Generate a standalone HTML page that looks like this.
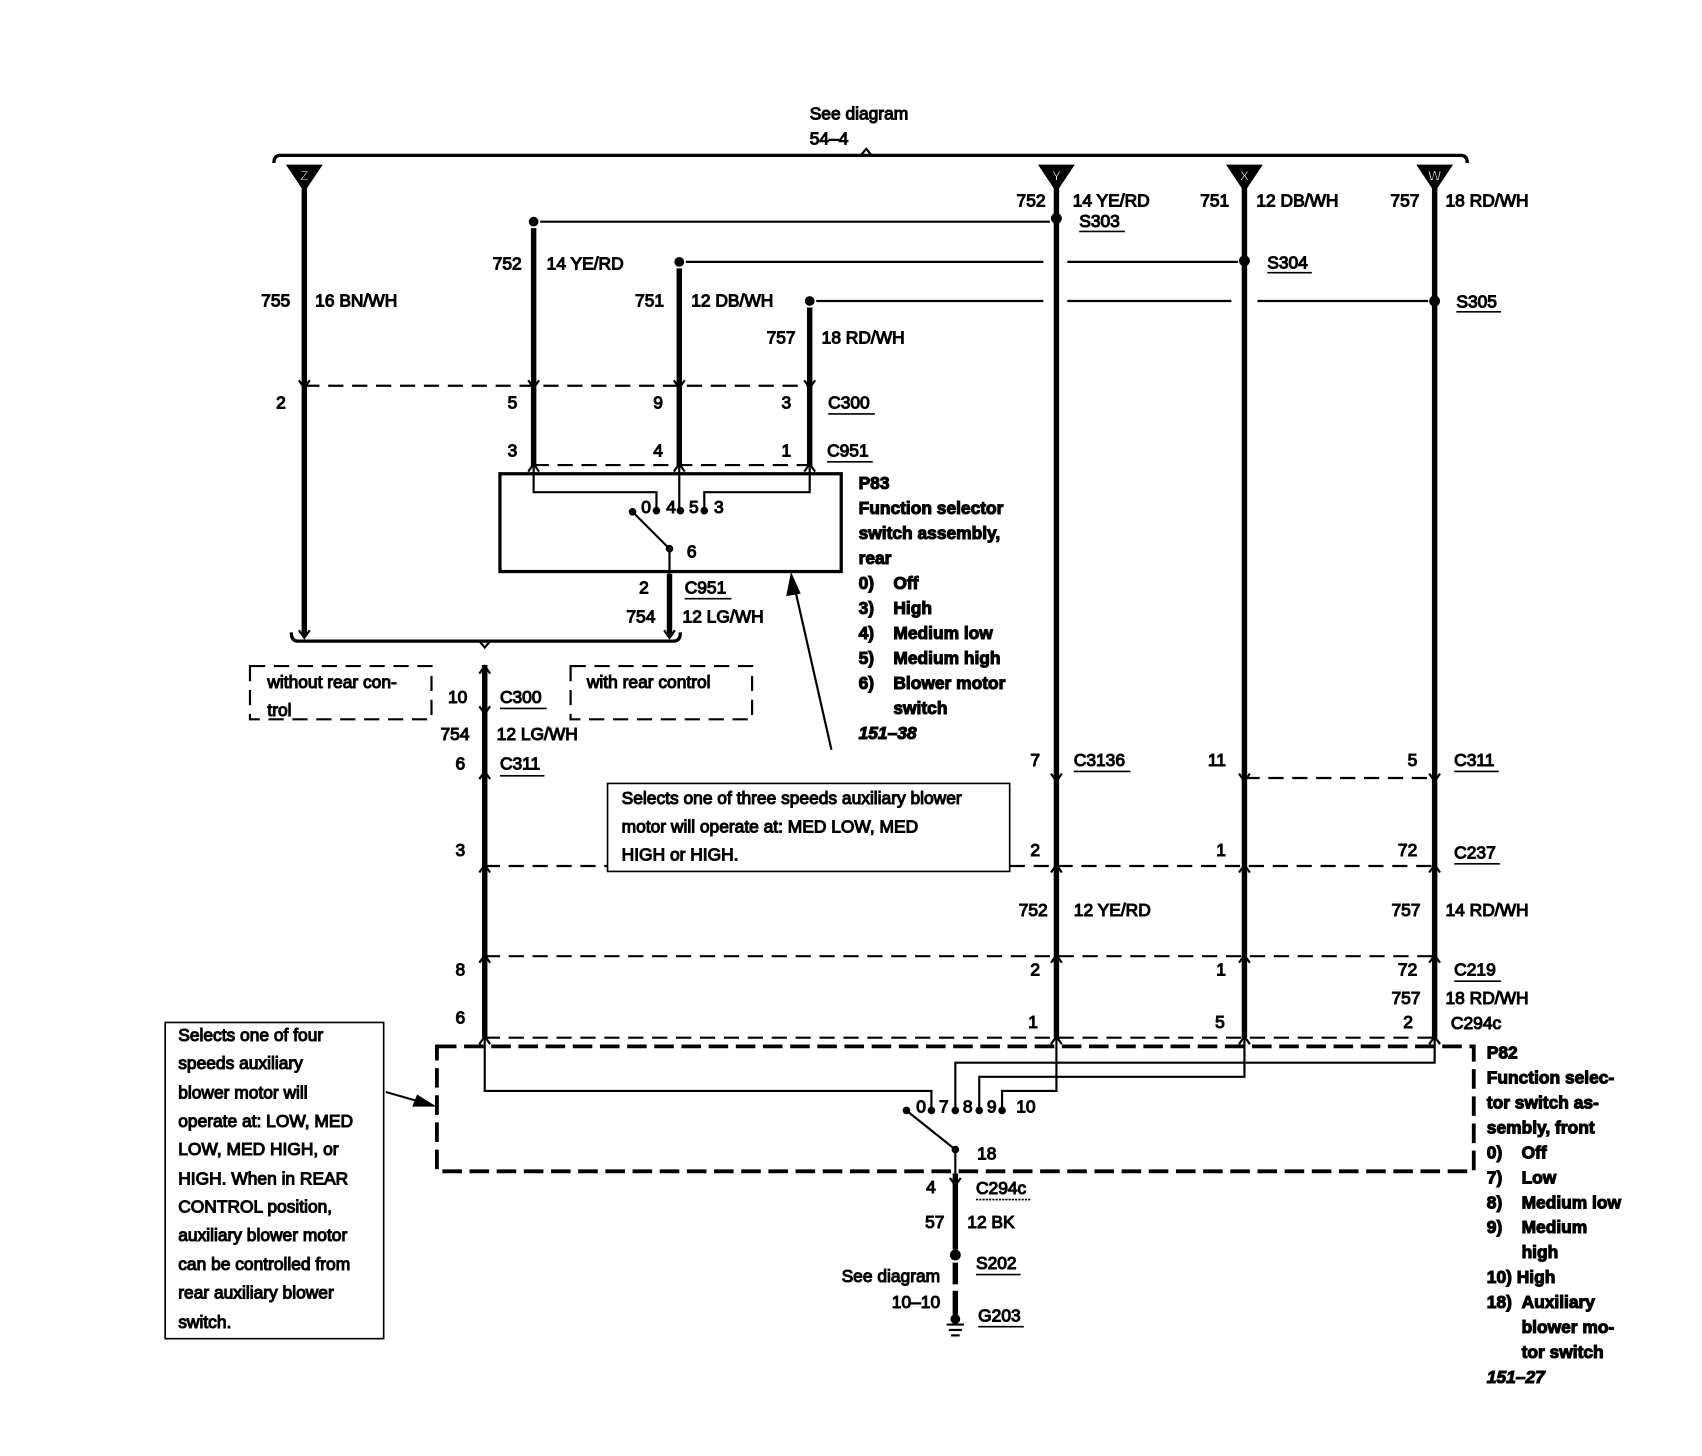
<!DOCTYPE html>
<html><head><meta charset="utf-8"><style>
html,body{margin:0;padding:0;background:#fff}
svg{display:block}
text{font-family:"Liberation Sans",sans-serif;font-size:16px;fill:#000}
.b{font-weight:bold}
.e{text-anchor:end}
.i{font-style:italic;font-weight:bold}
.w{fill:#fff;font-size:13px;font-weight:bold;text-anchor:middle}
</style></head><body>
<svg width="1702" height="1456" viewBox="0 0 1566 1340" preserveAspectRatio="none" xmlns="http://www.w3.org/2000/svg">
<g stroke="#000" fill="none">
<path d="M252,150 Q252,143 258,143 L1344,143 Q1350,143 1350,150" stroke-width="3"/>
<path d="M792,143 L797,137 L802,143" stroke-width="2"/>
<g stroke-width="5">
<line x1="280" y1="172" x2="280" y2="585"/>
<line x1="972" y1="172" x2="972" y2="955"/>
<line x1="1145" y1="172" x2="1145" y2="955"/>
<line x1="1320" y1="172" x2="1320" y2="955"/>
<line x1="491" y1="210" x2="491" y2="430"/>
<line x1="625" y1="247" x2="625" y2="430"/>
<line x1="745" y1="283" x2="745" y2="430"/>
<line x1="616" y1="528" x2="616" y2="586"/>
<line x1="446" y1="612" x2="446" y2="955"/>
<line x1="879" y1="1080" x2="879" y2="1150"/>
<line x1="879" y1="1162" x2="879" y2="1182"/>
<line x1="879" y1="1188" x2="879" y2="1210"/>
</g>
<g stroke-width="2">
<line x1="497" y1="204" x2="966" y2="204"/>
<line x1="631" y1="241" x2="960" y2="241"/>
<line x1="982" y1="241" x2="1139" y2="241"/>
<line x1="751" y1="277" x2="960" y2="277"/>
<line x1="982" y1="277" x2="1133" y2="277"/>
<line x1="1157" y1="277" x2="1314" y2="277"/>
</g>
<g stroke-width="2" stroke-dasharray="14,8">
<line x1="280" y1="355" x2="745" y2="355"/>
<line x1="491" y1="428" x2="745" y2="428"/>
<line x1="1145" y1="716" x2="1320" y2="716"/>
<line x1="446" y1="797" x2="559" y2="797"/>
<line x1="929" y1="797" x2="1320" y2="797"/>
<line x1="446" y1="880" x2="1320" y2="880"/>
<line x1="446" y1="955" x2="1320" y2="955"/>
<rect x="230" y="613" width="167" height="49"/>
<rect x="525" y="613" width="167" height="49"/>
</g>
<rect x="402" y="963" width="954" height="115" stroke-width="3.5" stroke-dasharray="18,7"/>
<rect x="460" y="436" width="314" height="90" stroke-width="3"/>
<g stroke-width="2">
<path d="M491,430 V453 H604 V468"/>
<path d="M625,430 V468"/>
<path d="M745,430 V453 H648 V468"/>
<line x1="616" y1="505" x2="582" y2="471"/>
<line x1="616" y1="505" x2="616" y2="528"/>
<path d="M446,955 V1004 H857 V1020"/>
<path d="M1320,955 V978 H879 V1020"/>
<path d="M1145,955 V991 H901 V1020"/>
<path d="M972,955 V1004 H922 V1020"/>
<line x1="879" y1="1058" x2="834" y2="1022"/>
<line x1="879" y1="1058" x2="879" y2="1080"/>
<line x1="765" y1="690" x2="731" y2="540"/>
<line x1="355" y1="1005" x2="390" y2="1015"/>
<path d="M268,582 Q268,590 274,590 L620,590 Q626,590 626,582" stroke-width="3"/>
<path d="M441,590 L446,596 L451,590" stroke-width="2"/>
<path d="M275,350 L280,357 L285,350 M486,350 L491,357 L496,350 M620,350 L625,357 L630,350 M740,350 L745,357 L750,350"/>
<path d="M486,434 L491,427 L496,434 M620,434 L625,427 L630,434 M740,434 L745,427 L750,434"/>
<path d="M275,580 L280,587 L285,580 M611,580 L616,587 L621,580"/>
<path d="M441,620 L446,613 L451,620 M441,650 L446,657 L451,650 M441,717 L446,710 L451,717 M441,803 L446,796 L451,803 M441,886 L446,879 L451,886 M441,961 L446,954 L451,961"/>
<path d="M967,712 L972,719 L977,712 M1140,712 L1145,719 L1150,712 M1315,712 L1320,719 L1325,712"/>
<path d="M967,803 L972,796 L977,803 M1140,803 L1145,796 L1150,803 M1315,803 L1320,796 L1325,803"/>
<path d="M967,886 L972,879 L977,886 M1140,886 L1145,879 L1150,886 M1315,886 L1320,879 L1325,886"/>
<path d="M967,961 L972,954 L977,961 M1140,961 L1145,954 L1150,961 M1315,961 L1320,954 L1325,961"/>
<path d="M874,1084 L879,1091 L884,1084"/>
<line x1="871" y1="1219" x2="887" y2="1219"/>
<line x1="873" y1="1224" x2="885" y2="1224"/>
<line x1="875" y1="1229" x2="883" y2="1229"/>
<g stroke-width="1.5">
<line x1="993" y1="213" x2="1035" y2="213"/>
<line x1="1166" y1="251" x2="1207" y2="251"/>
<line x1="1340" y1="287" x2="1381" y2="287"/>
<line x1="762" y1="381" x2="805" y2="381"/>
<line x1="761" y1="425" x2="803" y2="425"/>
<line x1="630" y1="551" x2="673" y2="551"/>
<line x1="460" y1="652" x2="503" y2="652"/>
<line x1="460" y1="714" x2="501" y2="714"/>
<line x1="988" y1="710" x2="1040" y2="710"/>
<line x1="1338" y1="710" x2="1379" y2="710"/>
<line x1="1338" y1="795" x2="1380" y2="795"/>
<line x1="1338" y1="903" x2="1381" y2="903"/>
<line x1="898" y1="1104" x2="948" y2="1104" stroke-dasharray="2,1"/>
<line x1="898" y1="1173" x2="939" y2="1173"/>
<line x1="900" y1="1221" x2="942" y2="1221"/>
</g>
</g>
<rect x="559" y="721" width="370" height="81" fill="#fff" stroke="#000" stroke-width="1.5"/>
<rect x="152" y="941" width="201" height="291" fill="#fff" stroke="#000" stroke-width="1.5"/>
<g fill="#000">
<polygon points="728,528 724,548 736,546"/>
<polygon points="400,1018 380,1018 384,1008"/>
<polygon points="264,152 296,152 280,176"/>
<polygon points="956,152 988,152 972,176"/>
<polygon points="1129,152 1161,152 1145,176"/>
<polygon points="1304,152 1336,152 1320,176"/>
<circle cx="491" cy="204" r="4"/><circle cx="972" cy="201" r="4.5"/>
<circle cx="625" cy="241" r="4"/><circle cx="1145" cy="240" r="4.5"/>
<circle cx="745" cy="277" r="4"/><circle cx="1320" cy="277" r="4.5"/>
<circle cx="604" cy="470" r="3"/><circle cx="626" cy="470" r="3"/><circle cx="648" cy="470" r="3"/>
<circle cx="582" cy="471" r="3"/><circle cx="616" cy="505" r="3"/>
<circle cx="857" cy="1022" r="3"/><circle cx="879" cy="1022" r="3"/><circle cx="901" cy="1022" r="3"/><circle cx="922" cy="1022" r="3"/>
<circle cx="834" cy="1022" r="3"/><circle cx="879" cy="1058" r="3"/>
<circle cx="879" cy="1155" r="4.5"/><circle cx="879" cy="1214" r="4"/>
</g>
<text x="280" y="166" class="w" style="fill:#fff">Z</text><text x="972" y="166" class="w" style="fill:#fff">Y</text>
<text x="1145" y="166" class="w" style="fill:#fff">X</text><text x="1320" y="166" class="w" style="fill:#fff">W</text>
<text x="745" y="110">See diagram</text><text x="745" y="133">54–4</text>
<text x="962" y="190" class="e">752</text><text x="987" y="190">14 YE/RD</text>
<text x="1131" y="190" class="e">751</text><text x="1156" y="190">12 DB/WH</text>
<text x="1306" y="190" class="e">757</text><text x="1330" y="190">18 RD/WH</text>
<text x="993" y="209">S303</text><text x="1166" y="247">S304</text><text x="1340" y="283">S305</text>
<text x="480" y="248" class="e">752</text><text x="503" y="248">14 YE/RD</text>
<text x="267" y="282" class="e">755</text><text x="290" y="282">16 BN/WH</text>
<text x="611" y="282" class="e">751</text><text x="636" y="282">12 DB/WH</text>
<text x="732" y="316" class="e">757</text><text x="756" y="316">18 RD/WH</text>
<text x="263" y="376" class="e">2</text><text x="476" y="376" class="e">5</text><text x="610" y="376" class="e">9</text><text x="728" y="376" class="e">3</text><text x="762" y="376">C300</text>
<text x="476" y="420" class="e">3</text><text x="610" y="420" class="e">4</text><text x="728" y="420" class="e">1</text><text x="761" y="420">C951</text>
<text x="590" y="472">0</text><text x="613" y="472">4</text><text x="634" y="472">5</text><text x="657" y="472">3</text>
<text x="632" y="513">6</text>
<text x="597" y="546" class="e">2</text><text x="630" y="546">C951</text>
<text x="603" y="573" class="e">754</text><text x="628" y="573">12 LG/WH</text>
<text x="246" y="633">without rear con-</text><text x="246" y="659">trol</text>
<text x="540" y="633">with rear control</text>
<text x="430" y="647" class="e">10</text><text x="460" y="647">C300</text>
<text x="432" y="681" class="e">754</text><text x="457" y="681">12 LG/WH</text>
<text x="428" y="708" class="e">6</text><text x="460" y="708">C311</text>
<text x="428" y="788" class="e">3</text>
<text x="572" y="740">Selects one of three speeds auxiliary blower</text>
<text x="572" y="766">motor will operate at: MED LOW, MED</text>
<text x="572" y="792">HIGH or HIGH.</text>
<text x="790" y="450" class="b">P83</text>
<text x="790" y="473" class="b">Function selector</text>
<text x="790" y="496" class="b">switch assembly,</text>
<text x="790" y="519" class="b">rear</text>
<text x="790" y="542" class="b">0)</text><text x="822" y="542" class="b">Off</text>
<text x="790" y="565" class="b">3)</text><text x="822" y="565" class="b">High</text>
<text x="790" y="588" class="b">4)</text><text x="822" y="588" class="b">Medium low</text>
<text x="790" y="611" class="b">5)</text><text x="822" y="611" class="b">Medium high</text>
<text x="790" y="634" class="b">6)</text><text x="822" y="634" class="b">Blower motor</text>
<text x="822" y="657" class="b">switch</text>
<text x="790" y="680" class="i">151–38</text>
<text x="957" y="705" class="e">7</text><text x="988" y="705">C3136</text>
<text x="1128" y="705" class="e">11</text><text x="1304" y="705" class="e">5</text><text x="1338" y="705">C311</text>
<text x="957" y="788" class="e">2</text><text x="1128" y="788" class="e">1</text><text x="1304" y="788" class="e">72</text><text x="1338" y="790">C237</text>
<text x="964" y="843" class="e">752</text><text x="988" y="843">12 YE/RD</text>
<text x="1307" y="843" class="e">757</text><text x="1330" y="843">14 RD/WH</text>
<text x="428" y="898" class="e">8</text><text x="957" y="898" class="e">2</text><text x="1128" y="898" class="e">1</text><text x="1304" y="898" class="e">72</text><text x="1338" y="898">C219</text>
<text x="1307" y="924" class="e">757</text><text x="1330" y="924">18 RD/WH</text>
<text x="428" y="942" class="e">6</text><text x="955" y="946" class="e">1</text><text x="1127" y="946" class="e">5</text><text x="1300" y="946" class="e">2</text><text x="1335" y="947">C294c</text>
<text x="843" y="1024">0</text><text x="864" y="1024">7</text><text x="886" y="1024">8</text><text x="908" y="1024">9</text><text x="935" y="1024">10</text>
<text x="899" y="1067">18</text>
<text x="861" y="1098" class="e">4</text><text x="898" y="1099">C294c</text>
<text x="869" y="1130" class="e">57</text><text x="890" y="1130">12 BK</text>
<text x="898" y="1168">S202</text>
<text x="865" y="1180" class="e">See diagram</text><text x="865" y="1204" class="e">10–10</text>
<text x="900" y="1216">G203</text>
<text x="164" y="958">Selects one of four</text>
<text x="164" y="984">speeds auxiliary</text>
<text x="164" y="1011">blower motor will</text>
<text x="164" y="1037">operate at: LOW, MED</text>
<text x="164" y="1063">LOW, MED HIGH, or</text>
<text x="164" y="1090">HIGH.  When in REAR</text>
<text x="164" y="1116">CONTROL position,</text>
<text x="164" y="1142">auxiliary blower motor</text>
<text x="164" y="1169">can be controlled from</text>
<text x="164" y="1195">rear auxiliary blower</text>
<text x="164" y="1222">switch.</text>
<text x="1368" y="974" class="b">P82</text>
<text x="1368" y="997" class="b">Function selec-</text>
<text x="1368" y="1020" class="b">tor switch as-</text>
<text x="1368" y="1043" class="b">sembly, front</text>
<text x="1368" y="1066" class="b">0)</text><text x="1400" y="1066" class="b">Off</text>
<text x="1368" y="1089" class="b">7)</text><text x="1400" y="1089" class="b">Low</text>
<text x="1368" y="1112" class="b">8)</text><text x="1400" y="1112" class="b">Medium low</text>
<text x="1368" y="1135" class="b">9)</text><text x="1400" y="1135" class="b">Medium</text>
<text x="1400" y="1158" class="b">high</text>
<text x="1368" y="1181" class="b">10) High</text>
<text x="1368" y="1204" class="b">18)</text><text x="1400" y="1204" class="b">Auxiliary</text>
<text x="1400" y="1227" class="b">blower mo-</text>
<text x="1400" y="1250" class="b">tor switch</text>
<text x="1368" y="1273" class="i">151–27</text>
</svg>
</body></html>
